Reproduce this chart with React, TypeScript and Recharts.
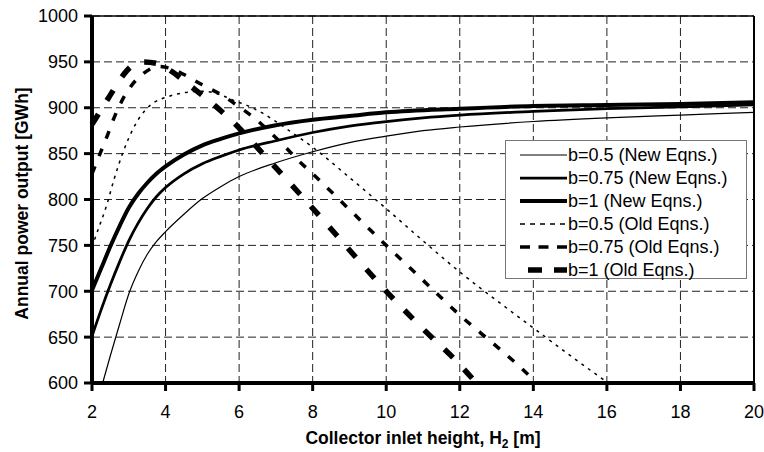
import { CartesianGrid, Legend, Line, LineChart, ReferenceLine, XAxis, YAxis } from "recharts";

const X_TICKS = [2, 4, 6, 8, 10, 12, 14, 16, 18, 20];
const Y_TICKS = [600, 650, 700, 750, 800, 850, 900, 950, 1000];

// [collector inlet height H2 (m), annual power output (GWh)]
const newB05: [number, number][] = [
  [2.29, 600], [2.5, 630], [2.75, 664], [3, 697], [3.25, 721], [3.5, 740], [3.75, 754],
  [4, 765], [4.5, 784], [5, 801], [5.5, 814], [6, 825], [7, 840], [8, 852], [9, 862],
  [10, 869], [11, 875], [12, 879], [14, 885], [16, 889], [18, 892], [20, 895],
];
const newB075: [number, number][] = [
  [2, 651], [2.25, 680], [2.5, 707], [2.75, 732], [3, 755], [3.25, 774], [3.5, 790],
  [3.75, 803], [4, 813], [4.5, 828], [5, 839], [5.5, 847], [6, 854], [7, 864], [8, 873],
  [9, 880], [10, 885], [11, 889], [12, 892], [14, 896], [16, 899], [18, 901], [20, 903],
];
const newB1: [number, number][] = [
  [2, 701], [2.25, 725], [2.5, 749], [2.75, 771], [3, 791], [3.25, 806], [3.5, 818],
  [3.75, 828], [4, 836], [4.5, 849], [5, 859], [5.5, 866], [6, 872], [7, 881], [8, 887],
  [9, 891], [10, 895], [12, 899], [14, 902], [16, 903], [18, 904], [20, 906],
];
const oldB05: [number, number][] = [
  [2, 748], [2.12, 762], [2.4, 794], [2.6, 822], [2.83, 850], [3, 867], [3.24, 886],
  [3.46, 898], [3.7, 906], [4.06, 912], [4.6, 917], [5, 918], [5.5, 914], [5.85, 908],
  [6.25, 902], [6.6, 895], [7, 885], [7.4, 874], [8, 857], [9, 824], [10, 790], [11, 755],
  [12, 721], [13, 690], [14, 660], [15, 630], [16, 601],
];
const oldB075: [number, number][] = [
  [2, 828], [2.23, 851], [2.42, 870], [2.6, 889], [2.78, 905], [3.05, 923], [3.42, 938],
  [3.8, 945], [4.2, 942], [4.6, 934], [5, 925], [5.52, 914], [6, 901], [6.47, 887],
  [6.85, 873], [7.24, 858], [7.6, 843], [8, 828], [9, 789], [10, 750], [11, 712],
  [12, 674], [13, 640], [13.6, 619], [14.1, 600],
];
const oldB1: [number, number][] = [
  [2, 882], [2.25, 898], [2.5, 914], [2.8, 933], [3.1, 946], [3.4, 950], [3.8, 948],
  [4.15, 940], [4.7, 923], [5.35, 902], [6, 878], [6.6, 852], [7.15, 828], [7.65, 806],
  [8.1, 786], [9, 745], [10, 700], [11, 659], [12, 620], [12.45, 600],
];

const FONT = "Arial, 'Liberation Sans', sans-serif";

const SERIES = [
  { name: "b=0.5 (New Eqns.)", points: newB05, width: 1.2, dash: undefined, legendDash: undefined, legendX: 15 },
  { name: "b=0.75 (New Eqns.)", points: newB075, width: 2.75, dash: undefined, legendDash: undefined, legendX: 15 },
  { name: "b=1 (New Eqns.)", points: newB1, width: 4, dash: undefined, legendDash: undefined, legendX: 15 },
  { name: "b=0.5 (Old Eqns.)", points: oldB05, width: 1.5, dash: "3 5", legendDash: "5 5", legendX: 15 },
  { name: "b=0.75 (Old Eqns.)", points: oldB075, width: 3.5, dash: "8 11", legendDash: "10 8.5", legendX: 15 },
  { name: "b=1 (Old Eqns.)", points: oldB1, width: 5.5, dash: "12 16", legendDash: "14 12", legendX: 23 },
];

const toRows = (pts: [number, number][]) => pts.map(([x, y]) => ({ x, y }));

function LegendBox() {
  return (
    <div
      style={{
        width: 242,
        height: 139,
        boxSizing: "border-box",
        background: "#fff",
        border: "1px solid #777",
        fontFamily: FONT,
        fontSize: 18,
        color: "#000",
        paddingTop: 2,
      }}
    >
      {SERIES.map((s) => (
        <div key={s.name} style={{ display: "flex", alignItems: "center", height: 23 }}>
          <svg width={62} height={12} style={{ flex: "none" }}>
            <line
              x1={s.legendX - 1}
              x2={61}
              y1={6}
              y2={6}
              stroke="#000"
              strokeWidth={s.width}
              strokeDasharray={s.legendDash}
            />
          </svg>
          <span style={{ lineHeight: 1, whiteSpace: "nowrap" }}>{s.name}</span>
        </div>
      ))}
    </div>
  );
}

function XTitle(props: any) {
  const { x, y, width } = props.viewBox;
  return (
    <text x={x + width / 2} y={y + 61} textAnchor="middle" fontFamily={FONT} fontSize={17.5} fontWeight="bold" fill="#000">
      <tspan>Collector inlet height, H</tspan>
      <tspan fontSize={12} dy={4}>2</tspan>
      <tspan dy={-4}> [m]</tspan>
    </text>
  );
}

function YTitle(props: any) {
  const { x, y, height } = props.viewBox;
  const cx = x + 28;
  const cy = y + height / 2 + 4;
  return (
    <text
      transform={`translate(${cx}, ${cy}) rotate(-90)`}
      textAnchor="middle"
      fontFamily={FONT}
      fontSize={17.5}
      fontWeight="bold"
      fill="#000"
    >
      Annual power output [GWh]
    </text>
  );
}

export default function App() {
  const tick = { fill: "#000", fontSize: 18, fontFamily: FONT };
  return (
    <div style={{ position: "absolute", left: 0, top: 0, background: "#fff" }}>
      <LineChart width={764} height={452} margin={{ top: 16, right: 10, bottom: 0, left: 0 }}>
        <CartesianGrid strokeDasharray="8 4" stroke="#222" />
        <XAxis
          dataKey="x"
          type="number"
          domain={[2, 20]}
          ticks={X_TICKS}
          interval={0}
          height={69}
          axisLine={{ stroke: "#000", strokeWidth: 4 }}
          tickLine={{ stroke: "#000", strokeWidth: 3 }}
          tickSize={8}
          tickMargin={14}
          tick={tick}
          label={XTitle}
        />
        <YAxis
          type="number"
          domain={[600, 1000]}
          ticks={Y_TICKS}
          interval={0}
          width={92}
          axisLine={{ stroke: "#000", strokeWidth: 4 }}
          tickLine={{ stroke: "#000", strokeWidth: 3 }}
          tickSize={8}
          tickMargin={6}
          tick={tick}
          label={YTitle}
        />
        <ReferenceLine y={1000} stroke="#000" strokeWidth={1.5} />
        <ReferenceLine x={20} stroke="#000" strokeWidth={2} />
        {SERIES.map((s) => (
          <Line
            key={s.name}
            name={s.name}
            data={toRows(s.points)}
            dataKey="y"
            type="monotone"
            stroke="#000"
            strokeWidth={s.width}
            strokeDasharray={s.dash}
            dot={false}
            activeDot={false}
            isAnimationActive={false}
          />
        ))}
        <Legend
          layout="vertical"
          align="center"
          verticalAlign="middle"
          content={() => <LegendBox />}
          wrapperStyle={{ left: 505, top: 140, width: 242, height: 139 }}
        />
      </LineChart>
    </div>
  );
}
